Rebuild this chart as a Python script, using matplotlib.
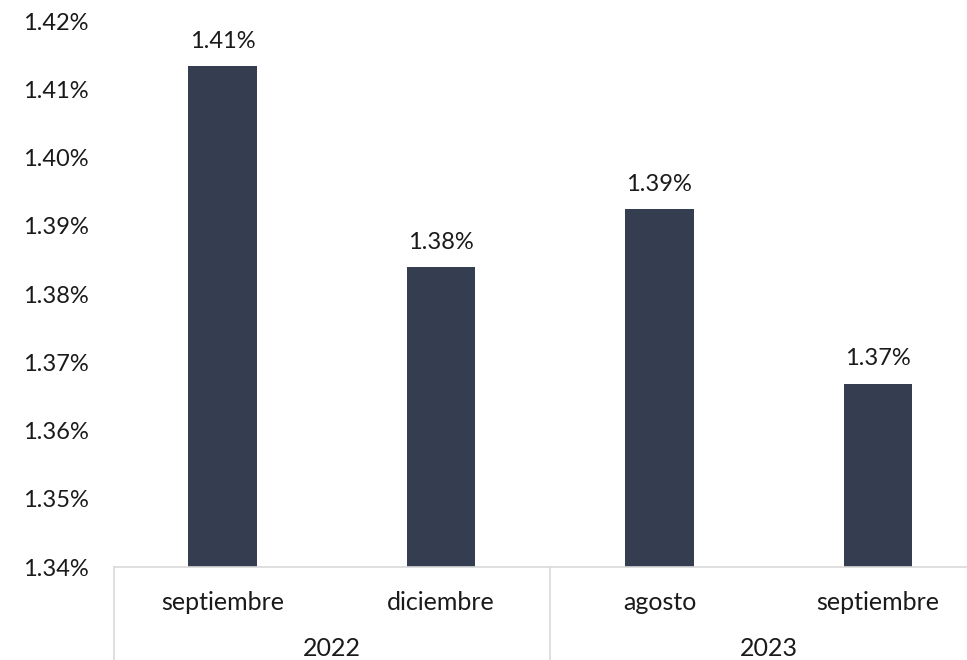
import matplotlib.pyplot as plt
import matplotlib.transforms as mtransforms
import numpy as np

plt.rcParams['font.family'] = ['Lato', 'DejaVu Sans']

months = ['septiembre', 'diciembre', 'agosto', 'septiembre']
years = ['2022', '2023']
values = [1.4134, 1.3840, 1.3925, 1.3669]
yticks = [1.34, 1.35, 1.36, 1.37, 1.38, 1.39, 1.40, 1.41, 1.42]

BAR_COLOR = '#343e50'
GRID_COLOR = '#d9d9d9'
TEXT_COLOR = '#1a1a1a'
FS = 17
CAT_FS = 18

fig = plt.figure(figsize=(9.67, 6.6), dpi=100)
# right edge sits past the figure, like the cropped original
ax = fig.add_axes([113.5 / 967, 1 - 567 / 660, (987 - 113.5) / 967, (567 - 21.4) / 660])

x = np.arange(len(months))
ax.bar(x, values, width=0.314, color=BAR_COLOR, zorder=2)

for xi, v in zip(x, values):
    ax.annotate(f'{v:.2f}%', (xi, v), xytext=(0, 13), textcoords='offset points',
                ha='center', va='baseline', fontsize=FS, color=TEXT_COLOR)

ax.set_xlim(-0.5, len(months) - 0.5)
ax.set_ylim(yticks[0], yticks[-1])
ax.set_yticks(yticks)
ax.set_yticklabels([f'{t:.2f}%' for t in yticks], fontsize=FS, color=TEXT_COLOR)
ax.tick_params(axis='y', length=0, pad=18)
ax.set_xticks([])

for s in ['top', 'right', 'left']:
    ax.spines[s].set_visible(False)
ax.spines['bottom'].set_color(GRID_COLOR)
ax.spines['bottom'].set_linewidth(1.2)

# two-level category axis
trans = mtransforms.blended_transform_factory(ax.transData, ax.transAxes)
ax_h = 567 - 21.4
lab_y = -(603 - 567) / ax_h
year_y = -(648 - 567) / ax_h
line_end = -(660 - 567) / ax_h
for xi, m in zip(x, months):
    ax.text(xi, lab_y, m, transform=trans, ha='center', va='center',
            fontsize=CAT_FS, color=TEXT_COLOR)
for i, yr in enumerate(years):
    ax.text(2 * i + 0.5, year_y, yr, transform=trans, ha='center', va='center',
            fontsize=CAT_FS, color=TEXT_COLOR)
for xs in [-0.5, 1.5, 3.5]:
    ax.plot([xs, xs], [0, line_end], transform=trans, color=GRID_COLOR,
            linewidth=1.2, clip_on=False)

fig.savefig('out.png', dpi=100)
